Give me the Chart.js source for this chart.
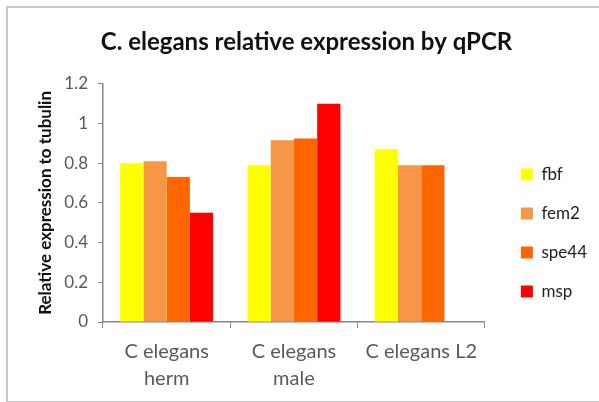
<!DOCTYPE html>
<html>

<head>
    <script src="https://cdn.jsdelivr.net/npm/chart.js"></script>
    <style>
        html,
        body {
            margin: 0px;
            background: #fff;
        }

        .frame {
            position: relative;
            width: 599px;
            height: 402px;
            overflow: hidden;
        }

        .edge {
            position: absolute;
            left: 6px;
            top: 6px;
            width: 600px;
            height: 393px;
            border: 2px solid #c9c9c9;
            pointer-events: none;
        }

        .container {
            position: absolute;
            left: 0;
            top: 0;
            width: 599px;
            height: 402px;
        }
    </style>
</head>

<body>
    <div class="frame">
        <div class="container">
            <canvas id="myChart"></canvas>
        </div>
        <div class="edge"></div>
    </div>

    <script>
        const categories = [
            ['C elegans', 'herm'],
            ['C elegans', 'male'],
            'C elegans L2'
        ];
        const fbf = [0.80, 0.79, 0.87];
        const fem2 = [0.81, 0.915, 0.79];
        const spe44 = [0.73, 0.925, 0.79];
        const msp = [0.55, 1.10, null];
        const yTicks = [0, 0.2, 0.4, 0.6, 0.8, 1, 1.2];

        const fontName = "Lato, 'Liberation Sans', sans-serif";
        const axisColor = '#868686';
        const labelColor = '#595959';

        // nudge legend and title a bit, the way the original sits
        const nudge = {
            id: 'nudge',
            afterLayout(chart) {
                const lg = chart.legend;
                lg.left += 14; lg.right += 14;
                lg.top += 32; lg.bottom += 32;
                const tb = chart.titleBlock;
                tb.left += 10; tb.right += 10;
            }
        };

        var context = document.getElementById('myChart').getContext('2d');
        var chart = new Chart(context, {
            type: 'bar',
            data: {
                labels: categories,
                datasets: [
                    { label: 'fbf', data: fbf, backgroundColor: '#ffff00' },
                    { label: 'fem2', data: fem2, backgroundColor: '#f79646' },
                    { label: 'spe44', data: spe44, backgroundColor: '#ff6600' },
                    { label: 'msp', data: msp, backgroundColor: '#ff0000' }
                ]
            },
            plugins: [nudge],
            options: {
                responsive: true,
                maintainAspectRatio: false,
                animation: false,
                categoryPercentage: 0.73,
                barPercentage: 1.0,
                layout: {
                    padding: { left: 10, right: 16, top: 0, bottom: 0 }
                },
                plugins: {
                    title: {
                        display: true,
                        text: 'C. elegans relative expression by qPCR',
                        color: '#111',
                        font: { family: fontName, size: 24, weight: 'bold', lineHeight: 1.2 },
                        padding: { top: 28, bottom: 27 }
                    },
                    legend: {
                        position: 'right',
                        labels: {
                            color: '#222',
                            boxWidth: 12,
                            boxHeight: 12,
                            padding: 22,
                            font: { family: fontName, size: 17 }
                        }
                    },
                    tooltip: { enabled: false }
                },
                scales: {
                    x: {
                        grid: {
                            drawOnChartArea: false,
                            drawTicks: true,
                            tickLength: 6,
                            color: axisColor,
                            offset: true
                        },
                        border: { display: true, color: axisColor, width: 1.5 },
                        ticks: {
                            color: labelColor,
                            padding: 10,
                            maxRotation: 0,
                            font: { family: fontName, size: 20, lineHeight: 1.35 }
                        }
                    },
                    y: {
                        min: 0,
                        max: 1.2,
                        afterBuildTicks: function (scale) {
                            scale.ticks = yTicks.map(v => ({ value: v }));
                        },
                        afterFit: function (scale) {
                            scale.width = 93;
                        },
                        grid: {
                            drawOnChartArea: false,
                            drawTicks: true,
                            tickLength: 5,
                            color: axisColor
                        },
                        border: { display: true, color: axisColor, width: 1.5 },
                        ticks: {
                            color: labelColor,
                            padding: 10,
                            font: { family: fontName, size: 17 },
                            callback: function (value) {
                                return String(Math.round(value * 10) / 10);
                            }
                        },
                        title: {
                            display: true,
                            text: 'Relative expression to tubulin',
                            color: '#111',
                            font: { family: fontName, size: 17, weight: 'bold', lineHeight: 1.2 },
                            padding: { top: 25, bottom: 0 }
                        }
                    }
                }
            }
        });
    </script>
</body>

</html>
